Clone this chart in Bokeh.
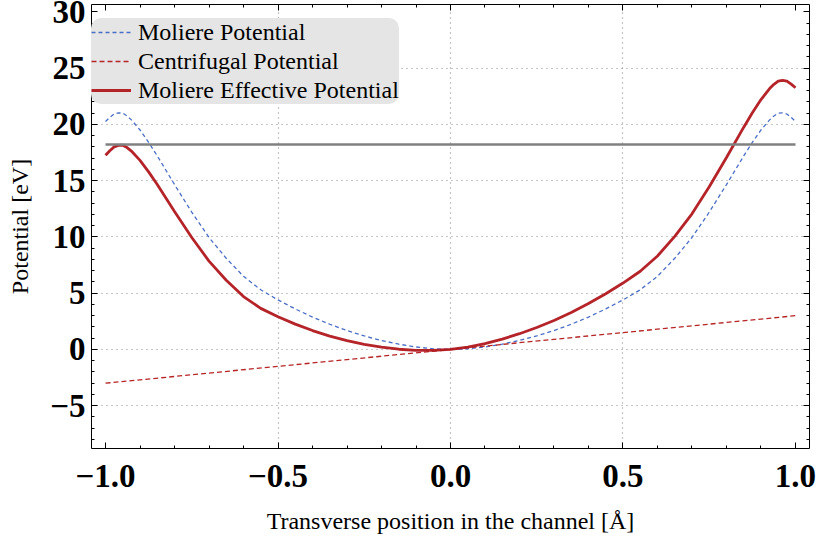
from bokeh.plotting import figure
from bokeh.models import (Range1d, FixedTicker, LinearAxis, Legend, LegendItem,
                          CustomLabelingPolicy)
from bokeh.embed import file_html
from bokeh.resources import INLINE

# Transverse position across the channel [Å]
x_pos = [-1.0, -0.9875, -0.975, -0.9625, -0.95, -0.9375, -0.925, -0.9, -0.875,
         -0.85, -0.8, -0.75, -0.7, -0.65, -0.6, -0.55, -0.5, -0.45, -0.4,
         -0.35, -0.3, -0.25, -0.2, -0.15, -0.1, -0.05, 0.0, 0.05, 0.1,
         0.15, 0.2, 0.25, 0.3, 0.35, 0.4, 0.45, 0.5, 0.55, 0.6,
         0.65, 0.7, 0.75, 0.8, 0.85, 0.875, 0.9, 0.925, 0.9375, 0.95,
         0.9625, 0.975, 0.9875, 1.0]

# Moliere continuum potential [eV]
moliere = [20.25, 20.62, 20.92, 21.02, 21.0, 20.75, 20.4, 19.5, 18.4,
           17.2, 14.65, 12.2, 9.95, 8.1, 6.5, 5.3, 4.4, 3.6, 2.88,
           2.24, 1.68, 1.2, 0.8, 0.47, 0.22, 0.06, 0.0, 0.06, 0.22,
           0.47, 0.8, 1.2, 1.68, 2.24, 2.88, 3.6, 4.4, 5.3, 6.5,
           8.1, 9.95, 12.2, 14.65, 17.2, 18.4, 19.5, 20.4, 20.75, 21.0,
           21.02, 20.92, 20.62, 20.25]

# Moliere effective potential (Moliere + centrifugal) [eV]
effective = [17.25, 17.66, 18.0, 18.13, 18.15, 17.94, 17.63, 16.8, 15.78,
             14.65, 12.25, 9.95, 7.85, 6.15, 4.7, 3.65, 2.9, 2.25, 1.68,
             1.19, 0.78, 0.45, 0.2, 0.02, -0.08, -0.09, 0.0, 0.21, 0.52,
             0.92, 1.4, 1.95, 2.58, 3.29, 4.08, 4.95, 5.9, 6.95, 8.3,
             10.05, 12.05, 14.45, 17.05, 19.75, 21.03, 22.2, 23.18, 23.56, 23.85,
             23.91, 23.85, 23.58, 23.25]

# Centrifugal potential (linear across the channel) [eV]
centrifugal_x = [-1.0, 1.0]
centrifugal_y = [-3.0, 3.0]

# Transverse energy level [eV]
level_x = [-1.0, 1.0]
level_y = [18.2, 18.2]

x_ticks = [-1.0, -0.5, 0.0, 0.5, 1.0]
x_tick_labels = ["\u22121.0", "\u22120.5", "0.0", "0.5", "1.0"]
x_minor = [round(-1.0 + 0.1 * i, 2) for i in range(21)]
y_ticks = [-5, 0, 5, 10, 15, 20, 25, 30]
y_tick_labels = ["\u22125", "0", "5", "10", "15", "20", "25", "30"]
y_minor = list(range(-8, 31))

SERIF = "Liberation Serif"

p = figure(width=818, height=548, output_backend="svg", toolbar_location=None,
           x_range=Range1d(-1.0406, 1.0406), y_range=Range1d(-8.8, 30.65),
           min_border_left=91, min_border_right=9, min_border_top=4,
           min_border_bottom=100)
p.background_fill_color = "white"
p.border_fill_color = "white"
p.outline_line_color = None

# mirror axes carry ticks only
no_labels = CustomLabelingPolicy(code="return new Set()")


def style_axis(ax, ticks, minor, labels=None):
    ax.ticker = FixedTicker(ticks=ticks, minor_ticks=minor)
    ax.axis_line_color = "black"
    ax.axis_line_width = 1
    ax.major_tick_line_color = "black"
    ax.minor_tick_line_color = "black"
    ax.major_tick_in = 6
    ax.major_tick_out = 0
    ax.minor_tick_in = 3
    ax.minor_tick_out = 0
    if labels is None:
        ax.major_label_policy = no_labels
        ax.major_label_text_font_size = "1px"
        ax.major_label_standoff = 0
    else:
        ax.major_label_overrides = {t: s for t, s in zip(ticks, labels)}
        ax.major_label_text_font = SERIF
        ax.major_label_text_font_style = "bold"
        ax.major_label_text_font_size = "33px"
        ax.major_label_text_color = "black"


xa = p.xaxis[0]
ya = p.yaxis[0]
style_axis(xa, x_ticks, x_minor, x_tick_labels)
style_axis(ya, y_ticks, y_minor, y_tick_labels)
xa.major_label_standoff = 16
ya.major_label_standoff = 6

xa.axis_label = "Transverse position in the channel [\u00c5]"
ya.axis_label = "Potential [eV]"
for ax in (xa, ya):
    ax.axis_label_text_font = SERIF
    ax.axis_label_text_font_style = "normal"
    ax.axis_label_text_font_size = "24px"
    ax.axis_label_text_color = "black"
xa.axis_label_standoff = 18
ya.axis_label_standoff = 14

top = LinearAxis()
style_axis(top, x_ticks, x_minor)
p.add_layout(top, "above")
right = LinearAxis()
style_axis(right, y_ticks, y_minor)
p.add_layout(right, "right")

p.xgrid.ticker = FixedTicker(ticks=[-0.5, 0.0, 0.5])
p.ygrid.ticker = FixedTicker(ticks=[-5, 0, 5, 10, 15, 20, 25])
for g in (p.xgrid, p.ygrid):
    g.grid_line_color = "#8c8c8c"
    g.grid_line_width = 1.2
    g.grid_line_dash = "1 4"

r_mol = p.line(x_pos, moliere, line_color="#4a6ec6", line_width=1.3,
               line_dash="4 3")
r_cen = p.line(centrifugal_x, centrifugal_y, line_color="#b52525",
               line_width=1.3, line_dash="5 3")
r_eff = p.line(x_pos, effective, line_color="#b0181d", line_width=2.8,
               line_alpha=0.95)
p.line(level_x, level_y, line_color="#808080", line_width=2.5)

legend = Legend(items=[
    LegendItem(label="Moliere Potential", renderers=[r_mol]),
    LegendItem(label="Centrifugal Potential", renderers=[r_cen]),
    LegendItem(label="Moliere Effective Potential", renderers=[r_eff]),
], location=(0, 344))
legend.margin = 0
legend.padding = 9
legend.spacing = 1
legend.glyph_width = 40
legend.glyph_height = 28
legend.label_height = 28
legend.label_standoff = 7
legend.label_text_font = SERIF
legend.label_text_font_size = "24px"
legend.label_text_color = "black"
legend.background_fill_color = "#e5e5e5"
legend.background_fill_alpha = 1.0
legend.border_line_color = None
if "border_radius" in Legend.properties():
    legend.border_radius = 10
p.add_layout(legend)

open("out.html", "w").write(file_html(p, INLINE))
